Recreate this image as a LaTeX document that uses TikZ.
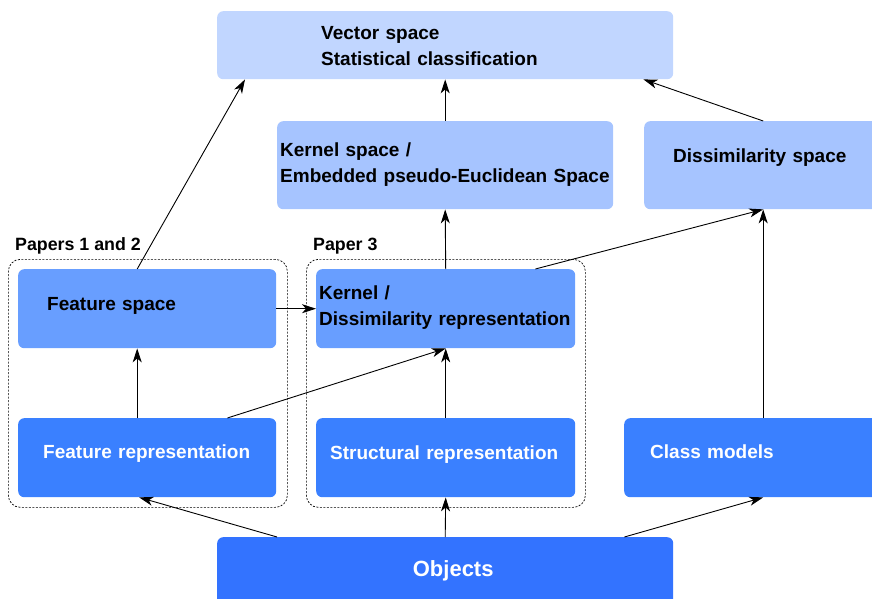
\documentclass[tikz,border=0pt]{standalone}
\usepackage{fontspec}
\setmainfont{Liberation Sans}
\usepackage{tikz}
\usetikzlibrary{arrows.meta, calc}
\definecolor{vecBlue}{HTML}{C1D6FF}
\definecolor{kerBlue}{HTML}{A6C4FF}
\definecolor{repBlue}{HTML}{689EFF}
\definecolor{basBlue}{HTML}{3A80FF}
\definecolor{objBlue}{HTML}{3373FF}
\hyphenpenalty=10000
\exhyphenpenalty=10000
\tikzstyle{spaceBox} = [rectangle, rounded corners=6pt, inner ysep=0pt, anchor=north west, align=left, font=\fontsize{19}{26}\selectfont\bfseries]
\tikzstyle{paperGroup} = [rectangle, draw, rounded corners=12pt, dash pattern=on 2pt off 1.5pt, line width=0.7pt, anchor=north west, inner sep=0pt]
\tikzstyle{paperLabel} = [anchor=base west, inner sep=0pt, font=\fontsize{17.8}{20}\selectfont\bfseries]
\tikzstyle{mapArrow} = [-{Stealth[length=14pt, width=9pt, inset=4pt]}, line width=0.9pt]

\begin{document}
\begin{tikzpicture}[x=1pt, y=-1pt]
    \useasboundingbox (0,0) rectangle (872,599);
    \clip (0,0) rectangle (872,599);

    % Papers
    \node[paperGroup, minimum width=279pt, minimum height=248pt] (grp12) at (8,259) {};
    \node[paperGroup, minimum width=279pt, minimum height=248pt] (grp3) at (306,259) {};
    \node[paperLabel] (lbl12) at (15,250) {Papers 1 and 2};
    \node[paperLabel] (lbl3) at (313,250) {Paper 3};

    % Spaces
    \node[spaceBox, fill=vecBlue, inner xsep=104pt, text width=248pt, text height=28.5pt, text depth=39.5pt] (vs) at (217,11) {Vector space\\Statistical classification};
    \node[spaceBox, fill=kerBlue, inner xsep=3pt, text width=330pt, text height=35.7pt, text depth=52.3pt] (ks) at (277,121) {Kernel space /\\Embedded pseudo-Euclidean Space};
    \node[spaceBox, fill=kerBlue, inner xsep=29pt, text width=180pt, text height=41.7pt, text depth=46.3pt] (ds) at (644,121) {Dissimilarity space};

    % Representations
    \node[spaceBox, fill=repBlue, inner xsep=29pt, text width=200pt, text height=41pt, text depth=38pt] (fs) at (18,269) {Feature space};
    \node[spaceBox, fill=repBlue, inner xsep=3pt, text width=253pt, text height=30pt, text depth=49pt] (kr) at (316,269) {Kernel /\\Dissimilarity representation};
    \node[spaceBox, fill=basBlue, text=white, inner xsep=25pt, text width=208pt, text height=40.3pt, text depth=38.7pt] (fr) at (18,418) {Feature representation};
    \node[spaceBox, fill=basBlue, text=white, inner xsep=14pt, text width=231pt, text height=41.3pt, text depth=37.7pt] (sr) at (316,418) {Structural representation};
    \node[spaceBox, fill=basBlue, text=white, inner xsep=26pt, text width=226pt, text height=40.3pt, text depth=38.7pt] (cm) at (624,418) {Class models};

    % Objects
    \node[spaceBox, fill=objBlue, text=white, inner xsep=0pt, text width=456pt, align=center, font=\fontsize{22}{26}\selectfont\bfseries, text height=39.7pt, text depth=43.3pt] (ob) at (217,537) {\hspace*{16pt}Objects};

    % Maps between spaces
    \draw[mapArrow] ($(fs.north)+(-10,0)$) -- ($(vs.south west)+(28,0)$);
    \draw[mapArrow] (ks.north) -- (vs.south);
    \draw[mapArrow] (ds.north) -- ($(vs.south east)+(-30,0)$);
    \draw[mapArrow] (kr.north) -- (ks.south);
    \draw[mapArrow] ($(kr.north east)+(-40,0)$) -- (ds.south);
    \draw[mapArrow] (fs.east) -- (kr.west);
    \draw[mapArrow] ($(fr.north)+(-10,0)$) -- ($(fs.south)+(-10,0)$);
    \draw[mapArrow] ($(fr.north east)+(-49,0)$) -- (kr.south);
    \draw[mapArrow] (sr.north) -- (kr.south);
    \draw[mapArrow] (cm.north) -- (ds.south);
    \draw[mapArrow] ($(ob.north west)+(60,0)$) -- ($(fr.south)+(-8,0)$);
    \draw[mapArrow] (ob.north) -- (sr.south);
    \draw[mapArrow] ($(ob.north east)+(-49,0)$) -- (cm.south);
\end{tikzpicture}
\end{document}
